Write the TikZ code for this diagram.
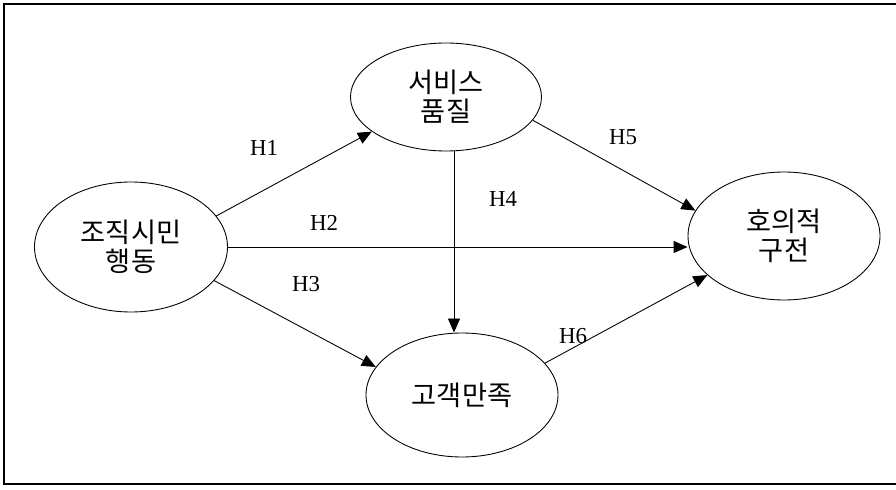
\documentclass[tikz,border=0pt]{standalone}
\usepackage{fontspec}
\setmainfont{Liberation Serif}
\newfontfamily\krfont{Noto Sans CJK KR}
\usetikzlibrary{shapes.geometric,arrows.meta}
\begin{document}
\begin{tikzpicture}[
        construct/.style = {ellipse, draw, line width=0.5pt, align=center, inner sep=0pt,
            font=\krfont\fontsize{15.5}{16.5}\selectfont},
        path/.style = {line width=0.5pt, -{Triangle[length=2.8mm,width=2.4mm]}},
        hyp/.style = {font=\fontsize{13}{14}\selectfont}]
        \useasboundingbox (0,0) rectangle (17.92,9.78);
        \draw[line width=0.6pt] (17.92,9.70) -- (0.08,9.70) -- (0.08,0.10) -- (17.92,0.10);
        \node[construct, minimum width=3.86cm, minimum height=2.6cm] (ocb) at (2.62,4.84) {조직시민\\행동};
        \node[construct, minimum width=3.82cm, minimum height=2.16cm] (quality) at (8.92,7.84) {서비스\\품질};
        \node[construct, minimum width=3.84cm, minimum height=2.56cm] (wom) at (15.68,5.06) {호의적\\구전};
        \node[construct, minimum width=3.84cm, minimum height=2.48cm] (satis) at (9.24,1.88) {고객만족};
        \coordinate (mid) at (9.08,0);
        \draw[path] (ocb.20) -- (quality.205);
        \draw[path] (ocb.east) -- (ocb.east -| wom.west);
        \draw[path] (ocb.338) -- (satis.162);
        \draw[path] (quality.south -| mid) -- (satis.north -| mid);
        \draw[path] (quality.345) -- (wom.164);
        \draw[path] (satis.21) -- (wom.207);
        \node[hyp] (h1) at (5.28,6.82) {H1};
        \node[hyp] (h2) at (6.48,5.32) {H2};
        \node[hyp] (h3) at (6.12,4.10) {H3};
        \node[hyp] (h4) at (10.06,5.80) {H4};
        \node[hyp] (h5) at (12.46,7.04) {H5};
        \node[hyp] (h6) at (11.46,3.06) {H6};
    \end{tikzpicture}
\end{document}
